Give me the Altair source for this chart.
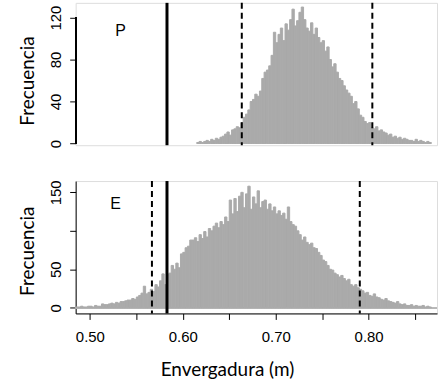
import altair as alt
import pandas as pd

# ---- data ----
BIN_W = 0.0025
top_start = 0.615
top_counts = [
    1, 2, 1, 2, 3, 2, 4, 3, 5, 4,
    6, 7, 9, 11, 8, 13, 14, 16, 15, 20,
    25, 28, 32, 40, 42, 47, 45, 50, 62, 68,
    70, 74, 84, 106, 96, 104, 110, 98, 114, 108,
    118, 128, 112, 117, 125, 130, 118, 110, 107, 115,
    104, 110, 101, 96, 98, 88, 92, 80, 73, 76,
    68, 62, 60, 55, 51, 48, 45, 38, 40, 33,
    27, 25, 21, 19, 20, 15, 14, 16, 12, 13,
    11, 10, 8, 9, 6, 7, 5, 6, 4, 5,
    4, 3, 3, 2, 4, 2, 3, 2, 1, 2,
    1,
]
bot_start = 0.485
bot_counts = [
    1, 1, 2, 1, 1, 2, 2, 1, 3, 2,
    2, 5, 4, 4, 5, 6, 5, 7, 6, 8,
    8, 9, 10, 10, 12, 11, 14, 16, 19, 28,
    18, 20, 24, 21, 30, 27, 35, 44, 30, 43,
    45, 55, 50, 58, 52, 70, 72, 78, 80, 88,
    88, 91, 86, 95, 90, 99, 92, 103, 100, 106,
    110, 104, 112, 108, 118, 112, 140, 122, 142, 125,
    145, 150, 130, 148, 158, 128, 144, 135, 152, 130,
    138, 140, 128, 135, 126, 131, 122, 126, 120, 123,
    115, 131, 112, 108, 106, 100, 95, 88, 92, 85,
    82, 84, 78, 77, 72, 68, 62, 60, 55, 50,
    49, 45, 43, 40, 42, 38, 35, 37, 30, 28,
    30, 26, 24, 22, 19, 20, 16, 15, 18, 14,
    13, 11, 10, 12, 9, 8, 7, 6, 8, 5,
    4, 5, 3, 3, 4, 2, 3, 2, 2, 3,
    1, 2, 1,
]
top_solid = [0.583]
top_dashed = [0.6635, 0.804]
bot_solid = [0.583]
bot_dashed = [0.5668, 0.7905]
x_ticks = [0.50, 0.55, 0.60, 0.65, 0.70, 0.75, 0.80, 0.85]
top_y_ticks = [0, 20, 40, 60, 80, 100, 120]
bot_y_ticks = [0, 50, 100, 150]
panel_labels = ["P", "E"]


def hist_df(start, counts):
    s = [round(start + i * BIN_W, 5) for i in range(len(counts))]
    return pd.DataFrame({"start": s, "end": [v + BIN_W for v in s], "count": counts})


top_df = hist_df(top_start, top_counts)
bot_df = hist_df(bot_start, bot_counts)

X_DOMAIN = [0.4847, 0.8736]
W = 363
GRAY = "#AAAAAA"
TICK_FONT = "Liberation Sans"
TITLE_FONT = "Lato"

xs = alt.Scale(domain=X_DOMAIN, nice=False, zero=False)
ys_top = alt.Scale(domain=[-1.6, 134], nice=False, zero=False)
ys_bot = alt.Scale(domain=[-7.4, 164.7], nice=False, zero=False)

y_axis_common = dict(
    tickSize=6, tickColor="black", labelColor="black", domainColor="black",
    labelFont=TICK_FONT, labelFontSize=15, labelAngle=270,
    labelAlign="center", labelBaseline="bottom", labelPadding=6,
    titleFont=TITLE_FONT, titleFontSize=19, titleFontWeight="normal",
    titleColor="black", titlePadding=11, grid=False,
)

# ---------- top panel ----------
top_bars = alt.Chart(top_df).mark_rect(color=GRAY, stroke=GRAY, strokeWidth=1).encode(
    x=alt.X("start:Q", scale=xs, axis=None),
    x2="end:Q",
    y=alt.Y("count:Q", scale=ys_top, title="Frecuencia",
            axis=alt.Axis(values=top_y_ticks, domain=False, titleY=78,
                          labelExpr="datum.value % 40 == 0 ? datum.label : ''",
                          **y_axis_common)),
    y2=alt.datum(0),
)
top_axis_line = alt.Chart(top_df).mark_rule(color="black", strokeWidth=1).encode(
    x=alt.value(0), y=alt.datum(0), y2=alt.datum(120)
)
top_solid_r = alt.Chart(pd.DataFrame({"v": top_solid})).mark_rule(
    color="black", strokeWidth=3).encode(x=alt.X("v:Q", scale=xs))
top_dash_r = alt.Chart(pd.DataFrame({"v": top_dashed})).mark_rule(
    color="black", strokeWidth=2, strokeDash=[6, 4]).encode(x=alt.X("v:Q", scale=xs))
top_label = alt.Chart(pd.DataFrame({"t": [panel_labels[0]]})).mark_text(
    font=TICK_FONT, fontSize=16, color="black").encode(
    x=alt.value(45), y=alt.value(28), text="t:N")

top = alt.layer(top_bars, top_axis_line, top_dash_r, top_solid_r, top_label).properties(
    width=W, height=143)

# ---------- bottom panel ----------
bot_bars = alt.Chart(bot_df).mark_rect(color=GRAY, stroke=GRAY, strokeWidth=1).encode(
    x=alt.X("start:Q", scale=xs, title="Envergadura (m)",
            axis=alt.Axis(values=x_ticks, format=".2f",
                          labelExpr="round(datum.value * 100) % 10 == 0 ? datum.label : ''",
                          tickSize=6, tickColor="black", domainColor="black",
                          labelColor="black", labelFont=TICK_FONT, labelFontSize=15,
                          labelPadding=10, titleFont=TITLE_FONT, titleFontSize=19,
                          titleFontWeight="normal", titleColor="black", titlePadding=16,
                          titleX=152, titleAlign="center",
                          grid=False)),
    x2="end:Q",
    y=alt.Y("count:Q", scale=ys_bot, title="Frecuencia",
            axis=alt.Axis(values=bot_y_ticks, domain=True, titleY=70,
                          labelExpr="datum.value == 100 ? '' : datum.label",
                          **y_axis_common)),
    y2=alt.datum(0),
)
bot_zero = alt.Chart(bot_df).mark_rule(color="#B8B8B8", strokeWidth=1).encode(
    y=alt.datum(0), x=alt.value(0), x2=alt.value(W))
bot_solid_r = alt.Chart(pd.DataFrame({"v": bot_solid})).mark_rule(
    color="black", strokeWidth=3).encode(x=alt.X("v:Q", scale=xs))
bot_dash_r = alt.Chart(pd.DataFrame({"v": bot_dashed})).mark_rule(
    color="black", strokeWidth=2, strokeDash=[6, 4]).encode(x=alt.X("v:Q", scale=xs))
bot_label = alt.Chart(pd.DataFrame({"t": [panel_labels[1]]})).mark_text(
    font=TICK_FONT, fontSize=16, color="black").encode(
    x=alt.value(40), y=alt.value(23), text="t:N")

bottom = alt.layer(bot_zero, bot_bars, bot_dash_r, bot_solid_r, bot_label).properties(
    width=W, height=133)

chart = alt.vconcat(top, bottom, spacing=36, bounds="flush").properties(
    padding={"left": 18, "top": 0, "right": 0, "bottom": 0},
).configure_view(stroke=None).configure(background="white")

chart.save("out.html", embed_options={"renderer": "svg", "actions": False})
